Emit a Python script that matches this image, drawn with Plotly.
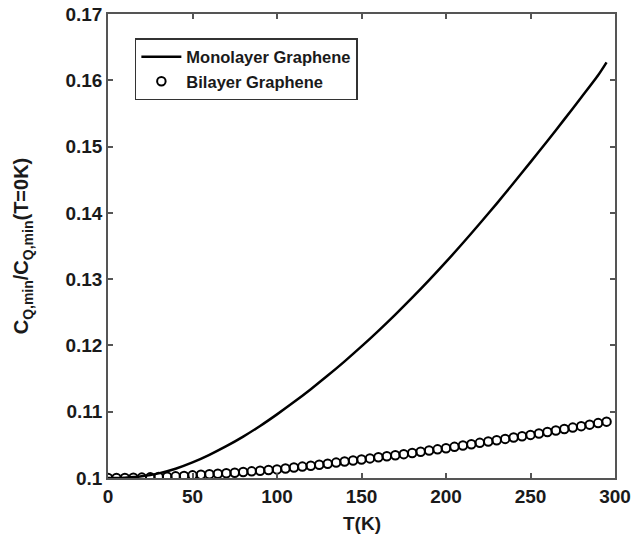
import plotly.graph_objects as go

# Monolayer graphene (solid line)
mono_T = [0, 10, 20, 30, 40, 50, 60, 70, 80, 90, 100, 110, 120, 130, 140, 150,
          160, 170, 180, 190, 200, 210, 220, 230, 240, 250, 260, 270, 280, 290, 295]
mono_C = [0.10000, 0.10005, 0.10025, 0.10070, 0.10140, 0.10235, 0.10350, 0.10480,
          0.10625, 0.10785, 0.10960, 0.11145, 0.11340, 0.11545, 0.11760, 0.11985,
          0.12220, 0.12465, 0.12720, 0.12985, 0.13260, 0.13545, 0.13840, 0.14140,
          0.14450, 0.14765, 0.15085, 0.15410, 0.15740, 0.16075, 0.16270]

# Bilayer graphene (open circles)
bi_T = list(range(0, 300, 5))
bi_C = [0.10000, 0.10000, 0.10001, 0.10003, 0.10006, 0.10010, 0.10014, 0.10019,
        0.10025, 0.10032, 0.10040, 0.10048, 0.10056, 0.10064, 0.10072, 0.10080,
        0.10090, 0.10100, 0.10110, 0.10120, 0.10130, 0.10144, 0.10158, 0.10172,
        0.10186, 0.10200, 0.10216, 0.10232, 0.10248, 0.10264, 0.10280, 0.10296,
        0.10312, 0.10328, 0.10344, 0.10360, 0.10378, 0.10396, 0.10414, 0.10432,
        0.10450, 0.10470, 0.10490, 0.10510, 0.10530, 0.10550, 0.10570, 0.10590,
        0.10610, 0.10630, 0.10650, 0.10672, 0.10694, 0.10716, 0.10738, 0.10760,
        0.10782, 0.10805, 0.10828, 0.10850]

x_ticks = [0, 50, 100, 150, 200, 250, 300]
y_ticks = [0.10, 0.11, 0.12, 0.13, 0.14, 0.15, 0.16, 0.17]
y_tick_text = ["0.1", "0.11", "0.12", "0.13", "0.14", "0.15", "0.16", "0.17"]

FONT = "Liberation Sans, Arial, sans-serif"
TXT = "#1a1a1a"

fig = go.Figure()
fig.add_trace(go.Scatter(
    x=mono_T, y=mono_C, mode="lines", name="Monolayer Graphene",
    line=dict(color="black", width=2.5, shape="spline", smoothing=0.8),
))
fig.add_trace(go.Scatter(
    x=bi_T, y=bi_C, mode="markers", name="Bilayer Graphene",
    marker=dict(symbol="circle-open", size=8.5, color="black",
                line=dict(color="black", width=2)),
))

axis_common = dict(
    showgrid=False, zeroline=False, showline=True, linecolor="#555555",
    linewidth=1.5, mirror="ticks", ticks="inside", ticklen=5,
    tickcolor="#555555", tickwidth=1.5, automargin=False,
    tickfont=dict(family=FONT, size=19, color=TXT, weight="bold"),
)

fig.update_xaxes(range=[0, 300], tickvals=x_ticks, **axis_common)
fig.update_yaxes(range=[0.10, 0.17], tickvals=y_ticks, ticktext=y_tick_text,
                 **axis_common)

fig.add_annotation(
    text="T(K)", xref="paper", yref="paper", x=0.5, y=-0.097,
    xanchor="center", yanchor="middle", showarrow=False,
    font=dict(family=FONT, size=19, color=TXT, weight="bold"),
)
fig.add_annotation(
    text="C<sub>Q,min</sub>/C<sub>Q,min</sub>(T=0K)", xref="paper", yref="paper",
    x=-0.169, y=0.5, xanchor="center", yanchor="middle", showarrow=False,
    textangle=-90,
    font=dict(family=FONT, size=20, color=TXT, weight="bold"),
)

fig.update_layout(
    width=633, height=538,
    margin=dict(l=108, r=18, t=14, b=60),
    paper_bgcolor="white", plot_bgcolor="white",
    showlegend=True,
    legend=dict(
        x=0.053, y=0.948, xanchor="left", yanchor="top",
        bgcolor="white", bordercolor="#333333", borderwidth=1.5,
        font=dict(family=FONT, size=16.5, color=TXT, weight="bold"),
        itemwidth=40, tracegroupgap=0,
    ),
)

fig.write_html("out.html")
